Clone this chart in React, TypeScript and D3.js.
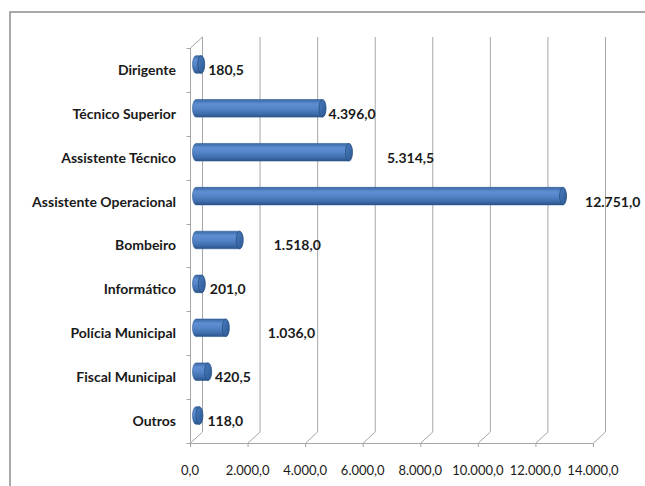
import { useEffect, useRef } from "react";
import * as d3 from "d3";

const categories = [
  "Dirigente",
  "Técnico Superior",
  "Assistente Técnico",
  "Assistente Operacional",
  "Bombeiro",
  "Informático",
  "Polícia Municipal",
  "Fiscal Municipal",
  "Outros",
];
const values = [180.5, 4396.0, 5314.5, 12751.0, 1518.0, 201.0, 1036.0, 420.5, 118.0];
const xTicks = [0, 2000, 4000, 6000, 8000, 10000, 12000, 14000];

// Excel places the 3D data labels at uneven distances from the bar ends
const labelGap = [7, 6, 38, 22, 34, 8, 42, 7, 8];

const width = 645;
const height = 486;
const depthX = 12;
const depthY = -11;
const font = "Lato, 'Open Sans', sans-serif";

const ptNum = (v: number) => {
  const [i, d] = v.toFixed(1).split(".");
  return i.replace(/\B(?=(\d{3})+(?!\d))/g, ".") + "," + d;
};

export default function App() {
  const svgRef = useRef<SVGSVGElement | null>(null);

  useEffect(() => {
    const svg = d3.select(svgRef.current);
    svg.selectAll("*").remove();

    const x = d3.scaleLinear().domain([0, 14000]).range([190, 593]);
    const y = d3
      .scaleBand<string>()
      .domain(categories)
      .range([48, 443])
      .paddingInner(0.6)
      .paddingOuter(0.3);
    const yTop = 48;
    const yBottom = 443;

    const defs = svg.append("defs");
    const body = defs
      .append("linearGradient")
      .attr("id", "cyl")
      .attr("x1", 0)
      .attr("y1", 0)
      .attr("x2", 0)
      .attr("y2", 1);
    [
      [0, "#3a68a6"],
      [0.25, "#5f8fd2"],
      [0.5, "#5585c8"],
      [0.8, "#3f6ead"],
      [1, "#2b5287"],
    ].forEach(([o, c]) => body.append("stop").attr("offset", o).attr("stop-color", c));
    const cap = defs
      .append("linearGradient")
      .attr("id", "cap")
      .attr("x1", 0)
      .attr("y1", 0)
      .attr("x2", 1)
      .attr("y2", 1);
    [
      [0, "#4a7cc0"],
      [1, "#2c5890"],
    ].forEach(([o, c]) => cap.append("stop").attr("offset", o).attr("stop-color", c));

    // outer chart frame
    svg
      .append("rect")
      .attr("x", 10)
      .attr("y", 12)
      .attr("width", 700)
      .attr("height", 500)
      .attr("fill", "none")
      .attr("stroke", "#8c8c8c")
      .attr("stroke-width", 1.5);

    const grid = svg.append("g").attr("stroke", "#a6a6a6").attr("stroke-width", 1).attr("fill", "none");

    // back wall gridlines + floor diagonals
    xTicks.forEach((t) => {
      const fx = x(t) + 0.5;
      grid
        .append("path")
        .attr("d", `M${fx},${yBottom} L${fx + depthX},${yBottom + depthY} L${fx + depthX},${yTop + depthY}`);
      grid.append("line").attr("x1", fx).attr("x2", fx).attr("y1", yBottom).attr("y2", yBottom + 4);
    });
    // front x axis
    grid.append("line").attr("x1", x(0)).attr("x2", x(14000) + 0.5).attr("y1", yBottom + 0.5).attr("y2", yBottom + 0.5);

    // left wall
    const lx = x(0) + 0.5;
    grid
      .append("path")
      .attr("d", `M${lx},${yBottom} L${lx},${yTop} L${lx + depthX},${yTop + depthY}`);
    const catTicks = categories.map((c) => (y(c) as number) - (y.step() - y.bandwidth()) / 2);
    catTicks.concat([yBottom]).forEach((ty) => {
      grid
        .append("line")
        .attr("x1", lx - 4)
        .attr("x2", lx)
        .attr("y1", Math.round(ty) + 0.5)
        .attr("y2", Math.round(ty) + 0.5);
    });

    // cylinders
    const r = y.bandwidth() / 2;
    const rx = 3.5;
    const bars = svg
      .append("g")
      .selectAll("g")
      .data(categories)
      .join("g");
    bars.each(function (c, i) {
      const g = d3.select(this);
      const cy = (y(c) as number) + r + depthY / 2;
      const x0 = x(0) + depthX / 2;
      const x1 = x(values[i]) + depthX / 2;
      const top = cy - r;
      const bot = cy + r;
      g.append("path")
        .attr(
          "d",
          `M${x0},${top} L${x1},${top} L${x1},${bot} L${x0},${bot} A${rx},${r} 0 0 1 ${x0},${top} Z`
        )
        .attr("fill", "url(#cyl)")
        .attr("stroke", "#2d5a92")
        .attr("stroke-width", 0.6);
      g.append("ellipse")
        .attr("cx", x1)
        .attr("cy", cy)
        .attr("rx", rx)
        .attr("ry", r)
        .attr("fill", "url(#cap)")
        .attr("stroke", "#264f82")
        .attr("stroke-width", 0.8);
    });

    // data labels
    svg
      .append("g")
      .selectAll("text")
      .data(categories)
      .join("text")
      .attr("x", (c, i) => x(values[i]) + depthX / 2 + labelGap[i])
      .attr("y", (c) => (y(c) as number) + r)
      .attr("dy", "0.35em")
      .attr("font-family", font)
      .attr("font-weight", "bold")
      .attr("font-size", 14)
      .attr("fill", "#1a1a1a")
      .text((c, i) => ptNum(values[i]));

    // category labels
    svg
      .append("g")
      .selectAll("text")
      .data(categories)
      .join("text")
      .attr("x", 176)
      .attr("y", (c) => (y(c) as number) + r)
      .attr("dy", "0.35em")
      .attr("text-anchor", "end")
      .attr("font-family", font)
      .attr("font-weight", "bold")
      .attr("font-size", 14)
      .attr("fill", "#1a1a1a")
      .text((c) => c);

    // x tick labels
    svg
      .append("g")
      .selectAll("text")
      .data(xTicks)
      .join("text")
      .attr("x", (t) => x(t))
      .attr("y", 470)
      .attr("dy", "0.35em")
      .attr("text-anchor", "middle")
      .attr("font-family", font)
      .attr("font-size", 13)
      .attr("fill", "#1a1a1a")
      .text((t) => ptNum(t));
  }, []);

  return (
    <svg
      ref={svgRef}
      width={width}
      height={height}
      style={{ position: "absolute", left: 0, top: 0, background: "#fff" }}
    />
  );
}
